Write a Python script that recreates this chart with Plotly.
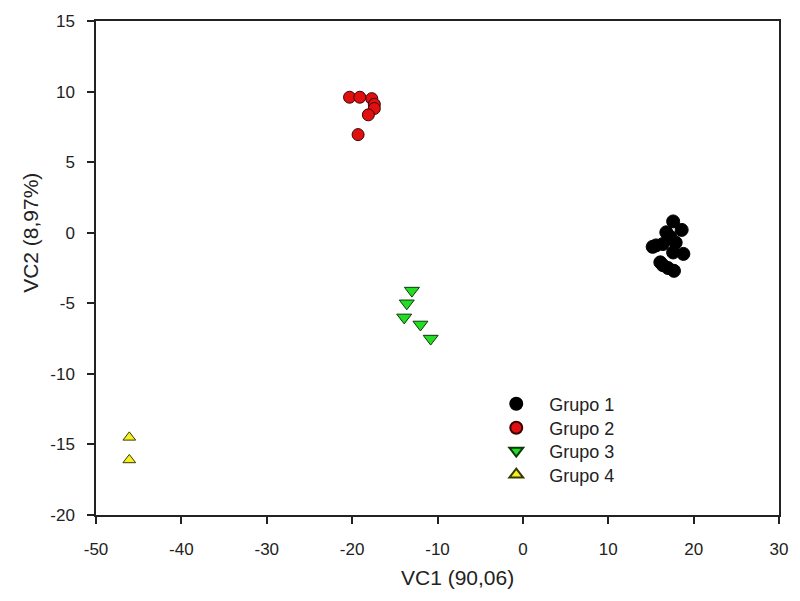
import plotly.graph_objects as go

g1_x = [17.6, 16.8, 18.6, 15.6, 15.2, 16.4, 17.9, 17.6, 18.8, 16.4, 17.7, 17.0, 16.1, 17.3]
g1_y = [0.8, 0.03, 0.2, -0.9, -1.0, -0.8, -0.7, -1.4, -1.5, -2.3, -2.7, -2.5, -2.1, -0.3]

g2_x = [-20.3, -19.1, -17.7, -17.4, -17.4, -18.1, -19.3]
g2_y = [9.6, 9.6, 9.5, 9.1, 8.8, 8.35, 6.95]

g3_x = [-13.0, -13.6, -13.9, -12.0, -10.8]
g3_y = [-4.1, -5.0, -6.0, -6.5, -7.5]

g4_x = [-46.1, -46.1]
g4_y = [-14.5, -16.1]

x_ticks = [-50, -40, -30, -20, -10, 0, 10, 20, 30]
x_labels = ["-50", "-40", "-30", "-20", "-10", "0", "10", "20", "30"]
y_ticks = [-20, -15, -10, -5, 0, 5, 10, 15]
y_labels = ["-20", "-15", "-10", "-5", "0", "5", "10", "15"]

x_title = "VC1 (90,06)"
y_title = "VC2 (8,97%)"

FONT = "Liberation Sans, Arial, sans-serif"

fig = go.Figure()
fig.add_trace(go.Scatter(x=g1_x, y=g1_y, mode="markers", name="Grupo 1", legend="legend",
                         marker=dict(symbol="circle", size=13, color="black",
                                     line=dict(color="black", width=1))))
fig.add_trace(go.Scatter(x=g2_x, y=g2_y, mode="markers", name="Grupo 2", legend="legend2",
                         marker=dict(symbol="circle", size=12, color="#e01010",
                                     line=dict(color="#3a0000", width=1))))
fig.add_trace(go.Scatter(x=g3_x, y=g3_y, mode="markers", name="Grupo 3", legend="legend3",
                         marker=dict(symbol="triangle-down", size=13, color="#22dd22",
                                     line=dict(color="#0a3a0a", width=1))))
fig.add_trace(go.Scatter(x=g4_x, y=g4_y, mode="markers", name="Grupo 4", legend="legend4",
                         marker=dict(symbol="triangle-up", size=11, color="#f5f020",
                                     line=dict(color="#3a3a00", width=1))))

axis_common = dict(showline=True, linecolor="#222", linewidth=1.5, mirror=True,
                   ticks="outside", ticklen=7, tickwidth=1.5, tickcolor="#222",
                   showgrid=False, zeroline=False,
                   tickfont=dict(family=FONT, size=17, color="#222"))

fig.update_xaxes(range=[-50, 30], tickvals=x_ticks, ticktext=x_labels,
                 ticklabelstandoff=11, **axis_common)
fig.update_yaxes(range=[-20, 15], tickvals=y_ticks, ticktext=y_labels,
                 ticklabelstandoff=9, **axis_common)

legend_style = dict(xanchor="left", yanchor="top", x=0.567,
                    font=dict(family=FONT, size=18, color="#222"),
                    bgcolor="rgba(0,0,0,0)", itemsizing="constant", itemwidth=56)

fig.add_annotation(text=x_title, xref="paper", yref="paper", x=0.53, y=-0.127,
                   xanchor="center", yanchor="middle", showarrow=False,
                   font=dict(family=FONT, size=21, color="#222"))
fig.add_annotation(text=y_title, xref="paper", yref="paper", x=-0.096, y=0.572,
                   xanchor="center", yanchor="middle", showarrow=False, textangle=-90,
                   font=dict(family=FONT, size=21, color="#222"))

fig.update_layout(
    width=800, height=601,
    margin=dict(l=96, r=16, t=20, b=86),
    plot_bgcolor="white", paper_bgcolor="white",
    showlegend=True,
    legend=dict(y=0.262, **legend_style),
    legend2=dict(y=0.2135, **legend_style),
    legend3=dict(y=0.167, **legend_style),
    legend4=dict(y=0.1186, **legend_style),
)

fig.write_html("out.html")
